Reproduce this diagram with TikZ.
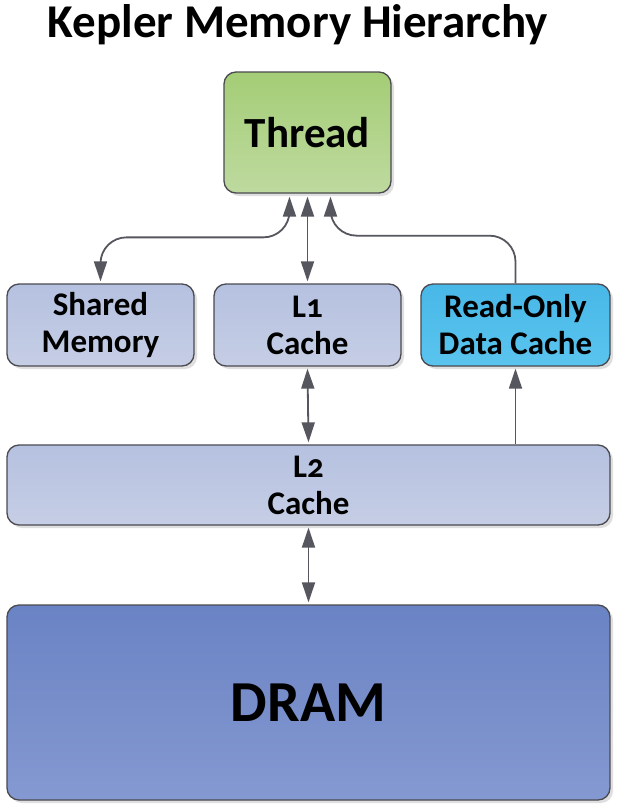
\documentclass[tikz,border=0pt]{standalone}
\usepackage{fontspec}
\setmainfont{Carlito}[Numbers=OldStyle]
\usetikzlibrary{arrows.meta,calc,shadows}

\definecolor{edgegray}{HTML}{4A4A50}
\definecolor{linkgray}{HTML}{55565E}
\definecolor{greentop}{HTML}{A4CD76}
\definecolor{greenbot}{HTML}{BEDA9F}
\definecolor{lilactop}{HTML}{B5C1E0}
\definecolor{lilacbot}{HTML}{C6CEE5}
\definecolor{cyantop}{HTML}{48B8E8}
\definecolor{cyanbot}{HTML}{5AC4EE}
\definecolor{dramtop}{HTML}{6A83C4}
\definecolor{drambot}{HTML}{8599D1}

\tikzset{
  memblock/.style={draw=edgegray, line width=1.3pt, rounded corners=12pt, inner sep=0pt,
    align=center, font=\bfseries\fontsize{33}{37}\selectfont,
    drop shadow={shadow xshift=3pt, shadow yshift=-3pt, opacity=0.25}},
  lilac/.style={memblock, top color=lilactop, bottom color=lilacbot},
  link/.style={draw=linkgray, fill=none, line width=1.8pt, -{Triangle[length=20pt, width=13pt]}},
  twoway/.style={link, {Triangle[length=20pt, width=13pt]}-{Triangle[length=20pt, width=13pt]}}
}

\begin{document}
\begin{tikzpicture}[x=1pt, y=-1pt]
  \useasboundingbox (0,0) rectangle (617,809);
  \node (title) at (298,25) {\bfseries\fontsize{47}{52}\selectfont Kepler Memory Hierarchy};
  \node[memblock, top color=greentop, bottom color=greenbot, minimum width=167pt, minimum height=121pt,
        font=\bfseries\fontsize{43}{48}\selectfont] (thread) at (307.5,132.5) {Thread};
  \node[lilac, minimum width=187pt, minimum height=82pt] (shared) at (100.5,325) {Shared\\Memory};
  \node[lilac, minimum width=187pt, minimum height=82pt] (l1) at (307.5,325) {L1\\Cache};
  \node[memblock, top color=cyantop, bottom color=cyanbot, minimum width=189pt, minimum height=82pt] (rodc) at (515.5,325) {Read-Only\\Data Cache};
  \node[lilac, minimum width=603pt, minimum height=80pt] (l2) at (308.5,485) {L2\\Cache};
  \node[memblock, top color=dramtop, bottom color=drambot, minimum width=603pt, minimum height=195pt,
        font=\bfseries\fontsize{58}{64}\selectfont] (dram) at (308.5,702.5) {DRAM};

  \draw[twoway, rounded corners=26pt] ([xshift=-18pt,yshift=-3pt]thread.south) |- ($(shared.north)+(0,-46)$) -- ([yshift=2pt]shared.north);
  \draw[twoway] ([yshift=-3pt]thread.south) -- ([yshift=2pt]l1.north);
  \draw[link, rounded corners=26pt] (rodc.north) |- ($(thread.south)+(23,42)$) -- ([xshift=23pt,yshift=-3pt]thread.south);
  \draw[twoway] ([yshift=-2pt]l1.south) -- ([yshift=2pt]l2.north);
  \draw[link] (l2.north -| rodc.south) -- ([yshift=-2pt]rodc.south);
  \draw[twoway] ([yshift=-2pt]l2.south) -- ([yshift=2pt]dram.north);
\end{tikzpicture}
\end{document}
